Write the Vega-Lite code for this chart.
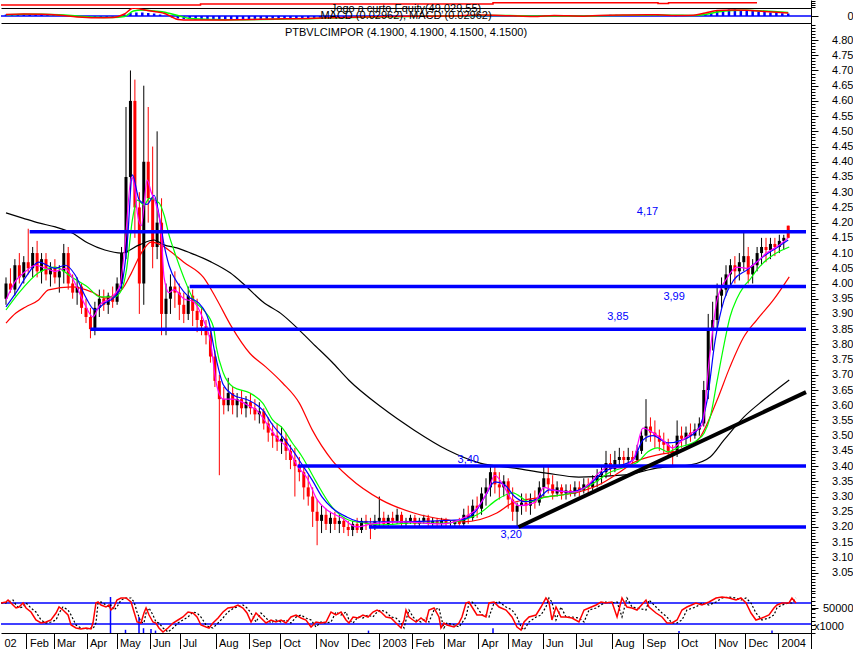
{
"$schema": "https://vega.github.io/schema/vega-lite/v6.json",
"padding": 0,
"background": "white",
"spacing": 0,
"bounds": "flush",
"config": {"view": {"stroke": null}, "font": "Liberation Sans", "concat": {"spacing": 0}, "axis": {"labelOverlap": false}},
"datasets": {
"candles": [
{"t":0,"o":3.95,"h":4.02,"l":3.93,"c":4.0},{"t":3,"o":4.0,"h":4.05,"l":3.97,"c":3.98},{"t":6,"o":3.98,"h":4.08,"l":3.96,"c":4.06},{"t":9,"o":4.06,"h":4.1,"l":4.0,"c":4.02},{"t":12,"o":4.02,"h":4.09,"l":4.0,"c":4.07},{"t":15,"o":4.07,"h":4.18,"l":4.03,"c":4.05},{"t":18,"o":4.05,"h":4.12,"l":4.02,"c":4.1},{"t":21,"o":4.1,"h":4.14,"l":4.02,"c":4.04},{"t":24,"o":4.04,"h":4.1,"l":4.0,"c":4.08},{"t":27,"o":4.08,"h":4.1,"l":4.01,"c":4.03},
{"t":30,"o":4.03,"h":4.07,"l":3.99,"c":4.05},{"t":33,"o":4.05,"h":4.08,"l":4.0,"c":4.02},{"t":36,"o":4.02,"h":4.06,"l":3.97,"c":4.04},{"t":39,"o":4.04,"h":4.13,"l":4.0,"c":4.1},{"t":42,"o":4.1,"h":4.12,"l":3.98,"c":4.0},{"t":45,"o":4.0,"h":4.03,"l":3.95,"c":3.97},{"t":48,"o":3.97,"h":4.02,"l":3.93,"c":3.99},{"t":51,"o":3.99,"h":4.0,"l":3.9,"c":3.92},{"t":54,"o":3.92,"h":3.95,"l":3.87,"c":3.89},{"t":57,"o":3.89,"h":3.92,"l":3.82,"c":3.85},
{"t":60,"o":3.85,"h":3.94,"l":3.83,"c":3.92},{"t":63,"o":3.92,"h":3.98,"l":3.89,"c":3.95},{"t":66,"o":3.95,"h":3.98,"l":3.91,"c":3.93},{"t":69,"o":3.93,"h":3.97,"l":3.9,"c":3.96},{"t":72,"o":3.96,"h":3.99,"l":3.92,"c":3.94},{"t":75,"o":3.94,"h":4.02,"l":3.93,"c":4.0},{"t":78,"o":4.0,"h":4.12,"l":3.98,"c":4.1},{"t":81,"o":4.1,"h":4.58,"l":4.08,"c":4.35},{"t":84,"o":4.35,"h":4.7,"l":4.3,"c":4.6},{"t":87,"o":4.6,"h":4.67,"l":4.15,"c":4.25},
{"t":90,"o":4.25,"h":4.3,"l":3.9,"c":4.0},{"t":93,"o":4.0,"h":4.65,"l":3.93,"c":4.4},{"t":96,"o":4.4,"h":4.58,"l":4.2,"c":4.28},{"t":99,"o":4.28,"h":4.45,"l":4.05,"c":4.12},{"t":102,"o":4.12,"h":4.5,"l":4.08,"c":4.2},{"t":105,"o":4.2,"h":4.28,"l":3.83,"c":3.9},{"t":108,"o":3.9,"h":4.0,"l":3.83,"c":3.95},{"t":111,"o":3.95,"h":4.03,"l":3.9,"c":3.99},{"t":114,"o":3.99,"h":4.04,"l":3.92,"c":3.97},{"t":117,"o":3.97,"h":4.0,"l":3.88,"c":3.93},
{"t":120,"o":3.93,"h":3.97,"l":3.87,"c":3.9},{"t":123,"o":3.9,"h":3.99,"l":3.88,"c":3.96},{"t":126,"o":3.96,"h":3.98,"l":3.86,"c":3.91},{"t":129,"o":3.91,"h":3.95,"l":3.84,"c":3.88},{"t":132,"o":3.88,"h":3.92,"l":3.83,"c":3.86},{"t":135,"o":3.86,"h":3.88,"l":3.8,"c":3.83},{"t":138,"o":3.83,"h":3.85,"l":3.74,"c":3.76},{"t":141,"o":3.76,"h":3.78,"l":3.66,"c":3.68},{"t":144,"o":3.68,"h":3.7,"l":3.37,"c":3.62},{"t":147,"o":3.62,"h":3.66,"l":3.57,"c":3.6},
{"t":150,"o":3.6,"h":3.69,"l":3.58,"c":3.64},{"t":153,"o":3.64,"h":3.66,"l":3.57,"c":3.6},{"t":156,"o":3.6,"h":3.64,"l":3.56,"c":3.62},{"t":159,"o":3.62,"h":3.65,"l":3.57,"c":3.59},{"t":162,"o":3.59,"h":3.63,"l":3.56,"c":3.61},{"t":165,"o":3.61,"h":3.64,"l":3.57,"c":3.59},{"t":168,"o":3.59,"h":3.62,"l":3.55,"c":3.57},{"t":171,"o":3.57,"h":3.61,"l":3.54,"c":3.58},{"t":174,"o":3.58,"h":3.59,"l":3.52,"c":3.54},{"t":177,"o":3.54,"h":3.56,"l":3.48,"c":3.51},
{"t":180,"o":3.51,"h":3.54,"l":3.46,"c":3.5},{"t":183,"o":3.5,"h":3.54,"l":3.45,"c":3.48},{"t":186,"o":3.48,"h":3.53,"l":3.44,"c":3.49},{"t":189,"o":3.49,"h":3.51,"l":3.42,"c":3.45},{"t":192,"o":3.45,"h":3.47,"l":3.39,"c":3.42},{"t":195,"o":3.42,"h":3.46,"l":3.3,"c":3.4},{"t":198,"o":3.4,"h":3.43,"l":3.35,"c":3.38},{"t":201,"o":3.38,"h":3.4,"l":3.29,"c":3.33},{"t":204,"o":3.33,"h":3.37,"l":3.27,"c":3.3},{"t":207,"o":3.3,"h":3.33,"l":3.2,"c":3.25},
{"t":210,"o":3.25,"h":3.29,"l":3.14,"c":3.22},{"t":213,"o":3.22,"h":3.27,"l":3.18,"c":3.24},{"t":216,"o":3.24,"h":3.26,"l":3.19,"c":3.21},{"t":219,"o":3.21,"h":3.25,"l":3.18,"c":3.23},{"t":222,"o":3.23,"h":3.25,"l":3.19,"c":3.21},{"t":225,"o":3.21,"h":3.24,"l":3.18,"c":3.22},{"t":228,"o":3.22,"h":3.23,"l":3.18,"c":3.2},{"t":231,"o":3.2,"h":3.22,"l":3.17,"c":3.19},{"t":234,"o":3.19,"h":3.22,"l":3.17,"c":3.21},{"t":237,"o":3.21,"h":3.23,"l":3.18,"c":3.19},
{"t":240,"o":3.19,"h":3.23,"l":3.18,"c":3.22},{"t":243,"o":3.22,"h":3.24,"l":3.19,"c":3.21},{"t":246,"o":3.21,"h":3.23,"l":3.16,"c":3.2},{"t":249,"o":3.2,"h":3.24,"l":3.19,"c":3.22},{"t":252,"o":3.22,"h":3.3,"l":3.2,"c":3.23},{"t":255,"o":3.23,"h":3.25,"l":3.2,"c":3.21},{"t":258,"o":3.21,"h":3.24,"l":3.2,"c":3.23},{"t":261,"o":3.23,"h":3.25,"l":3.21,"c":3.22},{"t":264,"o":3.22,"h":3.26,"l":3.21,"c":3.24},{"t":267,"o":3.24,"h":3.25,"l":3.2,"c":3.21},
{"t":270,"o":3.21,"h":3.23,"l":3.2,"c":3.22},{"t":273,"o":3.22,"h":3.24,"l":3.21,"c":3.23},{"t":276,"o":3.23,"h":3.24,"l":3.2,"c":3.21},{"t":279,"o":3.21,"h":3.23,"l":3.2,"c":3.22},{"t":282,"o":3.22,"h":3.24,"l":3.21,"c":3.23},{"t":285,"o":3.23,"h":3.24,"l":3.2,"c":3.21},{"t":288,"o":3.21,"h":3.23,"l":3.2,"c":3.22},{"t":291,"o":3.22,"h":3.23,"l":3.2,"c":3.21},{"t":294,"o":3.21,"h":3.23,"l":3.2,"c":3.22},{"t":297,"o":3.22,"h":3.23,"l":3.2,"c":3.21},
{"t":300,"o":3.21,"h":3.22,"l":3.2,"c":3.21},{"t":303,"o":3.21,"h":3.22,"l":3.2,"c":3.22},{"t":306,"o":3.22,"h":3.23,"l":3.2,"c":3.21},{"t":309,"o":3.21,"h":3.26,"l":3.2,"c":3.24},{"t":312,"o":3.24,"h":3.27,"l":3.21,"c":3.23},{"t":315,"o":3.23,"h":3.29,"l":3.22,"c":3.27},{"t":318,"o":3.27,"h":3.3,"l":3.23,"c":3.26},{"t":321,"o":3.26,"h":3.33,"l":3.24,"c":3.31},{"t":324,"o":3.31,"h":3.36,"l":3.27,"c":3.33},{"t":327,"o":3.33,"h":3.4,"l":3.3,"c":3.38},
{"t":330,"o":3.38,"h":3.4,"l":3.31,"c":3.34},{"t":333,"o":3.34,"h":3.38,"l":3.29,"c":3.33},{"t":336,"o":3.33,"h":3.37,"l":3.3,"c":3.35},{"t":339,"o":3.35,"h":3.36,"l":3.26,"c":3.29},{"t":342,"o":3.29,"h":3.33,"l":3.22,"c":3.25},{"t":345,"o":3.25,"h":3.28,"l":3.2,"c":3.27},{"t":348,"o":3.27,"h":3.31,"l":3.24,"c":3.28},{"t":351,"o":3.28,"h":3.31,"l":3.25,"c":3.27},{"t":354,"o":3.27,"h":3.31,"l":3.24,"c":3.29},{"t":357,"o":3.29,"h":3.32,"l":3.26,"c":3.28},
{"t":360,"o":3.28,"h":3.35,"l":3.27,"c":3.33},{"t":363,"o":3.33,"h":3.4,"l":3.3,"c":3.36},{"t":366,"o":3.36,"h":3.4,"l":3.31,"c":3.34},{"t":369,"o":3.34,"h":3.37,"l":3.29,"c":3.31},{"t":372,"o":3.31,"h":3.35,"l":3.3,"c":3.33},{"t":375,"o":3.33,"h":3.34,"l":3.29,"c":3.31},{"t":378,"o":3.31,"h":3.34,"l":3.29,"c":3.32},{"t":381,"o":3.32,"h":3.34,"l":3.3,"c":3.31},{"t":384,"o":3.31,"h":3.35,"l":3.3,"c":3.33},{"t":387,"o":3.33,"h":3.35,"l":3.3,"c":3.32},
{"t":390,"o":3.32,"h":3.36,"l":3.31,"c":3.34},{"t":393,"o":3.34,"h":3.36,"l":3.31,"c":3.33},{"t":396,"o":3.33,"h":3.37,"l":3.32,"c":3.35},{"t":399,"o":3.35,"h":3.39,"l":3.33,"c":3.37},{"t":402,"o":3.37,"h":3.4,"l":3.34,"c":3.38},{"t":405,"o":3.38,"h":3.45,"l":3.36,"c":3.41},{"t":408,"o":3.41,"h":3.44,"l":3.37,"c":3.39},{"t":411,"o":3.39,"h":3.45,"l":3.38,"c":3.42},{"t":414,"o":3.42,"h":3.46,"l":3.4,"c":3.43},{"t":417,"o":3.43,"h":3.45,"l":3.4,"c":3.42},
{"t":420,"o":3.42,"h":3.46,"l":3.4,"c":3.43},{"t":423,"o":3.43,"h":3.45,"l":3.41,"c":3.42},{"t":426,"o":3.42,"h":3.47,"l":3.41,"c":3.45},{"t":429,"o":3.45,"h":3.52,"l":3.44,"c":3.5},{"t":432,"o":3.5,"h":3.62,"l":3.48,"c":3.53},{"t":435,"o":3.53,"h":3.56,"l":3.48,"c":3.51},{"t":438,"o":3.51,"h":3.55,"l":3.46,"c":3.5},{"t":441,"o":3.5,"h":3.52,"l":3.45,"c":3.48},{"t":444,"o":3.48,"h":3.51,"l":3.44,"c":3.47},{"t":447,"o":3.47,"h":3.49,"l":3.43,"c":3.45},
{"t":450,"o":3.45,"h":3.47,"l":3.4,"c":3.44},{"t":453,"o":3.44,"h":3.55,"l":3.43,"c":3.5},{"t":456,"o":3.5,"h":3.53,"l":3.46,"c":3.49},{"t":459,"o":3.49,"h":3.53,"l":3.47,"c":3.51},{"t":462,"o":3.51,"h":3.54,"l":3.48,"c":3.5},{"t":465,"o":3.5,"h":3.54,"l":3.49,"c":3.52},{"t":468,"o":3.52,"h":3.56,"l":3.5,"c":3.54},{"t":471,"o":3.54,"h":3.68,"l":3.53,"c":3.65},{"t":474,"o":3.65,"h":3.9,"l":3.62,"c":3.85},{"t":477,"o":3.85,"h":3.94,"l":3.78,"c":3.88},
{"t":480,"o":3.88,"h":4.0,"l":3.85,"c":3.96},{"t":483,"o":3.96,"h":4.02,"l":3.92,"c":3.98},{"t":486,"o":3.98,"h":4.06,"l":3.96,"c":4.03},{"t":489,"o":4.03,"h":4.08,"l":3.99,"c":4.06},{"t":492,"o":4.06,"h":4.09,"l":4.0,"c":4.04},{"t":495,"o":4.04,"h":4.1,"l":4.01,"c":4.07},{"t":498,"o":4.07,"h":4.17,"l":4.04,"c":4.09},{"t":501,"o":4.09,"h":4.12,"l":4.0,"c":4.03},{"t":504,"o":4.03,"h":4.08,"l":4.0,"c":4.06},{"t":507,"o":4.06,"h":4.12,"l":4.04,"c":4.1},
{"t":510,"o":4.1,"h":4.15,"l":4.06,"c":4.12},{"t":513,"o":4.12,"h":4.15,"l":4.07,"c":4.11},{"t":516,"o":4.11,"h":4.15,"l":4.08,"c":4.13},{"t":519,"o":4.13,"h":4.15,"l":4.09,"c":4.12},{"t":522,"o":4.12,"h":4.16,"l":4.1,"c":4.14},{"t":525,"o":4.14,"h":4.16,"l":4.11,"c":4.15},{"t":528,"o":4.19,"h":4.19,"l":4.15,"c":4.15}
],
"ma": [
{"s":"m200","t":0,"v":4.232},{"s":"m200","t":11.3,"v":4.215},{"s":"m200","t":22,"v":4.199},{"s":"m200","t":33.3,"v":4.186},{"s":"m200","t":44.7,"v":4.166},{"s":"m200","t":55.3,"v":4.133},{"s":"m200","t":66.7,"v":4.11},{"s":"m200","t":78,"v":4.1},{"s":"m200","t":90,"v":4.127},{"s":"m200","t":100,"v":4.143},{"s":"m200","t":106.7,"v":4.127},{"s":"m200","t":115.3,"v":4.117},{"s":"m200","t":124.7,"v":4.1},{"s":"m200","t":138,"v":4.072},{"s":"m200","t":151.3,"v":4.035},{"s":"m200","t":160,"v":4.0},{"s":"m200","t":173.3,"v":3.94},{"s":"m200","t":186.7,"v":3.897},{"s":"m200","t":198,"v":3.847},{"s":"m200","t":206.7,"v":3.805},{"s":"m200","t":220,"v":3.742},{"s":"m200","t":231.3,"v":3.683},{"s":"m200","t":253.3,"v":3.594},{"s":"m200","t":275.3,"v":3.519},{"s":"m200","t":298,"v":3.453},{"s":"m200","t":320,"v":3.41},{"s":"m200","t":342,"v":3.394},{"s":"m200","t":364.7,"v":3.377},{"s":"m200","t":386.7,"v":3.364},{"s":"m200","t":418,"v":3.371},{"s":"m200","t":440,"v":3.394},{"s":"m200","t":462,"v":3.404},{"s":"m200","t":475.3,"v":3.43},{"s":"m200","t":484.7,"v":3.486},{"s":"m200","t":498,"v":3.561},{"s":"m200","t":511.3,"v":3.617},{"s":"m200","t":528.7,"v":3.683},
{"s":"m50","t":0,"v":3.87},{"s":"m50","t":6.7,"v":3.903},{"s":"m50","t":13.3,"v":3.923},{"s":"m50","t":22,"v":3.946},{"s":"m50","t":28.7,"v":3.979},{"s":"m50","t":44.7,"v":3.989},{"s":"m50","t":58,"v":3.972},{"s":"m50","t":66.7,"v":3.952},{"s":"m50","t":78,"v":3.979},{"s":"m50","t":84.7,"v":4.035},{"s":"m50","t":91.3,"v":4.1},{"s":"m50","t":98,"v":4.136},{"s":"m50","t":104.7,"v":4.127},{"s":"m50","t":111.3,"v":4.104},{"s":"m50","t":120,"v":4.07},{"s":"m50","t":133.3,"v":4.02},{"s":"m50","t":142,"v":3.95},{"s":"m50","t":152,"v":3.86},{"s":"m50","t":164.7,"v":3.77},{"s":"m50","t":175.3,"v":3.726},{"s":"m50","t":186.7,"v":3.673},{"s":"m50","t":198,"v":3.607},{"s":"m50","t":206.7,"v":3.519},{"s":"m50","t":220,"v":3.42},{"s":"m50","t":231.3,"v":3.364},{"s":"m50","t":253.3,"v":3.289},{"s":"m50","t":275.3,"v":3.246},{"s":"m50","t":298,"v":3.223},{"s":"m50","t":308.7,"v":3.217},{"s":"m50","t":331.3,"v":3.246},{"s":"m50","t":342,"v":3.279},{"s":"m50","t":364.7,"v":3.299},{"s":"m50","t":386.7,"v":3.315},{"s":"m50","t":400,"v":3.338},{"s":"m50","t":413.3,"v":3.377},{"s":"m50","t":424.7,"v":3.414},{"s":"m50","t":440,"v":3.437},{"s":"m50","t":451.3,"v":3.447},{"s":"m50","t":462,"v":3.463},{"s":"m50","t":468.7,"v":3.496},{"s":"m50","t":480,"v":3.617},{"s":"m50","t":488.7,"v":3.726},{"s":"m50","t":498,"v":3.824},{"s":"m50","t":506.7,"v":3.88},{"s":"m50","t":518,"v":3.946},{"s":"m50","t":528.7,"v":4.022},
{"s":"m20","t":0,"v":3.913},{"s":"m20","t":8.7,"v":3.969},{"s":"m20","t":22,"v":4.035},{"s":"m20","t":33.3,"v":4.054},{"s":"m20","t":44.7,"v":4.02},{"s":"m20","t":55.3,"v":3.988},{"s":"m20","t":63.3,"v":3.956},{"s":"m20","t":73.3,"v":3.956},{"s":"m20","t":78,"v":3.979},{"s":"m20","t":81.3,"v":4.044},{"s":"m20","t":85.3,"v":4.209},{"s":"m20","t":88.7,"v":4.274},{"s":"m20","t":93.3,"v":4.258},{"s":"m20","t":96.7,"v":4.28},{"s":"m20","t":103.3,"v":4.265},{"s":"m20","t":106.7,"v":4.225},{"s":"m20","t":110,"v":4.16},{"s":"m20","t":113.3,"v":4.11},{"s":"m20","t":120,"v":4.02},{"s":"m20","t":126.7,"v":3.946},{"s":"m20","t":133.3,"v":3.913},{"s":"m20","t":140,"v":3.857},{"s":"m20","t":142,"v":3.79},{"s":"m20","t":146.7,"v":3.706},{"s":"m20","t":153.3,"v":3.66},{"s":"m20","t":164.7,"v":3.64},{"s":"m20","t":173.3,"v":3.607},{"s":"m20","t":180,"v":3.552},{"s":"m20","t":186.7,"v":3.524},{"s":"m20","t":193.3,"v":3.476},{"s":"m20","t":200,"v":3.43},{"s":"m20","t":208.7,"v":3.354},{"s":"m20","t":220,"v":3.266},{"s":"m20","t":231.3,"v":3.223},{"s":"m20","t":242,"v":3.213},{"s":"m20","t":253.3,"v":3.207},{"s":"m20","t":275.3,"v":3.213},{"s":"m20","t":298,"v":3.213},{"s":"m20","t":308.7,"v":3.223},{"s":"m20","t":320,"v":3.246},{"s":"m20","t":331.3,"v":3.289},{"s":"m20","t":342,"v":3.312},{"s":"m20","t":353.3,"v":3.283},{"s":"m20","t":364.7,"v":3.299},{"s":"m20","t":375.3,"v":3.305},{"s":"m20","t":386.7,"v":3.318},{"s":"m20","t":400,"v":3.354},{"s":"m20","t":406.7,"v":3.377},{"s":"m20","t":418,"v":3.397},{"s":"m20","t":426.7,"v":3.414},{"s":"m20","t":433.3,"v":3.447},{"s":"m20","t":440,"v":3.46},{"s":"m20","t":446.7,"v":3.447},{"s":"m20","t":453.3,"v":3.46},{"s":"m20","t":466.7,"v":3.486},{"s":"m20","t":471.3,"v":3.509},{"s":"m20","t":475.3,"v":3.56},{"s":"m20","t":480,"v":3.68},{"s":"m20","t":484.7,"v":3.8},{"s":"m20","t":488.7,"v":3.89},{"s":"m20","t":493.3,"v":3.95},{"s":"m20","t":498,"v":3.99},{"s":"m20","t":502,"v":4.012},{"s":"m20","t":506.7,"v":4.044},{"s":"m20","t":513.3,"v":4.077},{"s":"m20","t":520,"v":4.1},{"s":"m20","t":528.7,"v":4.12},
{"s":"m10","t":0,"v":3.923},{"s":"m10","t":6.7,"v":3.969},{"s":"m10","t":15.3,"v":4.035},{"s":"m10","t":22,"v":4.07},{"s":"m10","t":33.3,"v":4.05},{"s":"m10","t":40,"v":4.06},{"s":"m10","t":46.7,"v":4.028},{"s":"m10","t":53.3,"v":3.96},{"s":"m10","t":60,"v":3.913},{"s":"m10","t":66.7,"v":3.936},{"s":"m10","t":73.3,"v":3.956},{"s":"m10","t":78,"v":3.995},{"s":"m10","t":82,"v":4.143},{"s":"m10","t":85.3,"v":4.357},{"s":"m10","t":90,"v":4.274},{"s":"m10","t":95.3,"v":4.26},{"s":"m10","t":100,"v":4.29},{"s":"m10","t":103.3,"v":4.225},{"s":"m10","t":106.7,"v":4.127},{"s":"m10","t":110,"v":4.06},{"s":"m10","t":116.7,"v":3.995},{"s":"m10","t":123.3,"v":3.956},{"s":"m10","t":130,"v":3.936},{"s":"m10","t":136.7,"v":3.88},{"s":"m10","t":141.3,"v":3.765},{"s":"m10","t":146.7,"v":3.667},{"s":"m10","t":153.3,"v":3.634},{"s":"m10","t":163.3,"v":3.617},{"s":"m10","t":173.3,"v":3.584},{"s":"m10","t":180,"v":3.535},{"s":"m10","t":186.7,"v":3.496},{"s":"m10","t":193.3,"v":3.453},{"s":"m10","t":200,"v":3.404},{"s":"m10","t":206.7,"v":3.354},{"s":"m10","t":213.3,"v":3.299},{"s":"m10","t":220,"v":3.263},{"s":"m10","t":230,"v":3.233},{"s":"m10","t":240,"v":3.217},{"s":"m10","t":266.7,"v":3.217},{"s":"m10","t":306.7,"v":3.223},{"s":"m10","t":316.7,"v":3.25},{"s":"m10","t":323.3,"v":3.3},{"s":"m10","t":330,"v":3.348},{"s":"m10","t":336.7,"v":3.338},{"s":"m10","t":343.3,"v":3.3},{"s":"m10","t":350,"v":3.283},{"s":"m10","t":360,"v":3.296},{"s":"m10","t":366.7,"v":3.322},{"s":"m10","t":380,"v":3.315},{"s":"m10","t":393.3,"v":3.338},{"s":"m10","t":403.3,"v":3.381},{"s":"m10","t":413.3,"v":3.4},{"s":"m10","t":423.3,"v":3.42},{"s":"m10","t":430,"v":3.486},{"s":"m10","t":436.7,"v":3.5},{"s":"m10","t":446.7,"v":3.476},{"s":"m10","t":456.7,"v":3.486},{"s":"m10","t":466.7,"v":3.519},{"s":"m10","t":473.3,"v":3.617},{"s":"m10","t":478.7,"v":3.814},{"s":"m10","t":484.7,"v":3.946},{"s":"m10","t":491.3,"v":4.012},{"s":"m10","t":500,"v":4.044},{"s":"m10","t":510,"v":4.084},{"s":"m10","t":520,"v":4.117},{"s":"m10","t":528,"v":4.143},
{"s":"m5","t":0,"v":3.946},{"s":"m5","t":6.7,"v":4.01},{"s":"m5","t":13.3,"v":4.04},{"s":"m5","t":20,"v":4.06},{"s":"m5","t":26.7,"v":4.05},{"s":"m5","t":33.3,"v":4.04},{"s":"m5","t":40,"v":4.05},{"s":"m5","t":46.7,"v":4.0},{"s":"m5","t":53.3,"v":3.93},{"s":"m5","t":58.7,"v":3.89},{"s":"m5","t":63.3,"v":3.93},{"s":"m5","t":70,"v":3.95},{"s":"m5","t":76.7,"v":3.99},{"s":"m5","t":80,"v":4.11},{"s":"m5","t":84.7,"v":4.35},{"s":"m5","t":86.7,"v":4.32},{"s":"m5","t":88.7,"v":4.23},{"s":"m5","t":91.3,"v":4.19},{"s":"m5","t":95.3,"v":4.34},{"s":"m5","t":98,"v":4.3},{"s":"m5","t":101.3,"v":4.26},{"s":"m5","t":104.7,"v":4.17},{"s":"m5","t":106.7,"v":4.02},{"s":"m5","t":110,"v":3.97},{"s":"m5","t":113.3,"v":3.98},{"s":"m5","t":120,"v":3.95},{"s":"m5","t":126.7,"v":3.94},{"s":"m5","t":133.3,"v":3.88},{"s":"m5","t":138,"v":3.81},{"s":"m5","t":142,"v":3.67},{"s":"m5","t":146.7,"v":3.62},{"s":"m5","t":153.3,"v":3.62},{"s":"m5","t":163.3,"v":3.6},{"s":"m5","t":170,"v":3.58},{"s":"m5","t":176.7,"v":3.535},{"s":"m5","t":183.3,"v":3.49},{"s":"m5","t":190,"v":3.46},{"s":"m5","t":196.7,"v":3.4},{"s":"m5","t":203.3,"v":3.36},{"s":"m5","t":210,"v":3.29},{"s":"m5","t":216.7,"v":3.256},{"s":"m5","t":226.7,"v":3.23},{"s":"m5","t":236.7,"v":3.2},{"s":"m5","t":246.7,"v":3.21},{"s":"m5","t":266.7,"v":3.217},{"s":"m5","t":293.3,"v":3.21},{"s":"m5","t":310,"v":3.233},{"s":"m5","t":318.7,"v":3.266},{"s":"m5","t":325.3,"v":3.32},{"s":"m5","t":330,"v":3.37},{"s":"m5","t":335.3,"v":3.34},{"s":"m5","t":341.3,"v":3.29},{"s":"m5","t":346.7,"v":3.27},{"s":"m5","t":356.7,"v":3.28},{"s":"m5","t":363.3,"v":3.33},{"s":"m5","t":370,"v":3.32},{"s":"m5","t":383.3,"v":3.315},{"s":"m5","t":393.3,"v":3.34},{"s":"m5","t":400,"v":3.377},{"s":"m5","t":406.7,"v":3.397},{"s":"m5","t":413.3,"v":3.394},{"s":"m5","t":423.3,"v":3.42},{"s":"m5","t":430,"v":3.525},{"s":"m5","t":436.7,"v":3.51},{"s":"m5","t":443.3,"v":3.486},{"s":"m5","t":450,"v":3.46},{"s":"m5","t":456.7,"v":3.486},{"s":"m5","t":463.3,"v":3.51},{"s":"m5","t":470,"v":3.535},{"s":"m5","t":474.7,"v":3.75},{"s":"m5","t":480,"v":3.946},{"s":"m5","t":486.7,"v":4.018},{"s":"m5","t":493.3,"v":4.054},{"s":"m5","t":500,"v":4.05},{"s":"m5","t":506.7,"v":4.07},{"s":"m5","t":513.3,"v":4.1},{"s":"m5","t":520,"v":4.12},{"s":"m5","t":528,"v":4.15}
],
"lvl": [{"t":16,"p":4.17},{"t":124,"p":3.99},{"t":57,"p":3.85},{"t":197,"p":3.4},{"t":245,"p":3.2}],
"lbl": [{"t":433,"p":4.235,"s":"4,17"},{"t":451,"p":3.956,"s":"3,99"},{"t":413,"p":3.89,"s":"3,85"},{"t":312,"p":3.42,"s":"3,40"},{"t":341,"p":3.174,"s":"3,20"}],
"trend": [{"t":346,"p":3.2},{"t":540,"p":3.643}],
"eq": [{"t":0,"v":3},{"t":133,"v":4},{"t":328,"v":5.3},{"t":438,"v":4.6},{"t":445,"v":5.3},{"t":504,"v":5.3}],
"macdh": [
{"t":0,"h":0.15},{"t":4,"h":0.18},{"t":8,"h":0.2},{"t":12,"h":0.18},{"t":16,"h":0.2},{"t":20,"h":0.15},{"t":24,"h":0.15},{"t":28,"h":0.1},{"t":32,"h":0.08},{"t":36,"h":0.03},{"t":40,"h":0},{"t":44,"h":-0.05},{"t":48,"h":-0.1},{"t":52,"h":-0.12},{"t":56,"h":-0.15},{"t":60,"h":-0.15},{"t":64,"h":-0.12},{"t":68,"h":-0.1},{"t":72,"h":-0.08},{"t":76,"h":0},{"t":80,"h":0.15},{"t":84,"h":0.3},{"t":88,"h":0.35},{"t":92,"h":0.35},{"t":96,"h":0.3},{"t":100,"h":0.25},{"t":104,"h":0.15},{"t":108,"h":0},{"t":112,"h":-0.15},{"t":116,"h":-0.25},{"t":120,"h":-0.3},{"t":124,"h":-0.3},{"t":128,"h":-0.35},{"t":132,"h":-0.35},{"t":136,"h":-0.35},{"t":140,"h":-0.38},{"t":144,"h":-0.4},{"t":148,"h":-0.4},{"t":152,"h":-0.4},{"t":156,"h":-0.38},{"t":160,"h":-0.38},{"t":164,"h":-0.35},{"t":168,"h":-0.33},{"t":172,"h":-0.3},{"t":176,"h":-0.3},{"t":180,"h":-0.28},{"t":184,"h":-0.28},{"t":188,"h":-0.25},{"t":192,"h":-0.25},{"t":196,"h":-0.25},{"t":200,"h":-0.22},{"t":204,"h":-0.22},{"t":208,"h":-0.25},{"t":212,"h":-0.25},{"t":216,"h":-0.2},{"t":220,"h":-0.15},{"t":224,"h":-0.12},{"t":228,"h":-0.1},{"t":232,"h":-0.1},{"t":236,"h":-0.08},{"t":240,"h":-0.06},{"t":244,"h":-0.05},{"t":248,"h":-0.05},{"t":252,"h":-0.03},{"t":256,"h":-0.03},{"t":260,"h":-0.02},{"t":264,"h":-0.02},{"t":268,"h":-0.02},{"t":304,"h":0.02},{"t":308,"h":0.03},{"t":312,"h":0.05},{"t":316,"h":0.08},{"t":320,"h":0.1},{"t":324,"h":0.12},{"t":328,"h":0.1},{"t":332,"h":0.08},{"t":336,"h":0.05},{"t":344,"h":-0.05},{"t":348,"h":-0.08},{"t":352,"h":-0.05},{"t":360,"h":0.03},{"t":364,"h":0.05},{"t":368,"h":0.03},{"t":372,"h":0.02},{"t":384,"h":0.02},{"t":388,"h":0.02},{"t":392,"h":0.03},{"t":396,"h":0.05},{"t":400,"h":0.08},{"t":404,"h":0.1},{"t":408,"h":0.12},{"t":412,"h":0.12},{"t":416,"h":0.1},{"t":420,"h":0.1},{"t":424,"h":0.08},{"t":428,"h":0.12},{"t":432,"h":0.15},{"t":436,"h":0.12},{"t":440,"h":0.1},{"t":444,"h":0.05},{"t":452,"h":-0.02},{"t":460,"h":0.02},{"t":464,"h":0.05},{"t":468,"h":0.1},{"t":472,"h":0.2},{"t":476,"h":0.35},{"t":480,"h":0.5},{"t":484,"h":0.6},{"t":488,"h":0.65},{"t":492,"h":0.65},{"t":496,"h":0.6},{"t":500,"h":0.55},{"t":504,"h":0.5},{"t":508,"h":0.45},{"t":512,"h":0.4},{"t":516,"h":0.35},{"t":520,"h":0.3},{"t":524,"h":0.28},{"t":528,"h":0.25}
],
"macdl": [
{"t":0,"m":0.15,"g":0.12},{"t":12,"m":0.2,"g":0.17},{"t":24,"m":0.18,"g":0.18},{"t":36,"m":0.08,"g":0.12},{"t":48,"m":-0.1,"g":0},{"t":60,"m":-0.18,"g":-0.12},{"t":72,"m":-0.15,"g":-0.15},{"t":80,"m":0.2,"g":-0.05},{"t":86,"m":0.8,"g":0.5},{"t":92,"m":0.65,"g":0.6},{"t":100,"m":0.45,"g":0.5},{"t":108,"m":0.2,"g":0.35},{"t":112,"m":-0.1,"g":0.2},{"t":116,"m":-0.35,"g":0.05},{"t":124,"m":-0.4,"g":-0.25},{"t":140,"m":-0.4,"g":-0.35},{"t":156,"m":-0.38,"g":-0.38},{"t":172,"m":-0.33,"g":-0.35},{"t":188,"m":-0.28,"g":-0.3},{"t":204,"m":-0.25,"g":-0.27},{"t":220,"m":-0.18,"g":-0.2},{"t":240,"m":-0.1,"g":-0.13},{"t":260,"m":-0.05,"g":-0.07},{"t":280,"m":-0.02,"g":-0.03},{"t":300,"m":0,"g":0},{"t":320,"m":0.1,"g":0.06},{"t":340,"m":0.02,"g":0.05},{"t":356,"m":-0.05,"g":0},{"t":370,"m":0.05,"g":0},{"t":390,"m":-0.02,"g":0},{"t":400,"m":0.05,"g":0.02},{"t":420,"m":0.1,"g":0.07},{"t":440,"m":0.12,"g":0.1},{"t":452,"m":0.05,"g":0.08},{"t":464,"m":0.08,"g":0.05},{"t":472,"m":0.3,"g":0.15},{"t":480,"m":0.55,"g":0.4},{"t":490,"m":0.6,"g":0.55},{"t":500,"m":0.58,"g":0.58},{"t":512,"m":0.45,"g":0.5},{"t":528,"m":0.3,"g":0.35}
],
"osc": [
{"t":0,"r":75,"k":75},{"t":3.3,"r":77.5,"k":75},{"t":4.7,"r":82.5,"k":77.5},{"t":8,"r":70,"k":82.5},{"t":10,"r":62.5,"k":70},{"t":12,"r":65,"k":62.5},{"t":14.7,"r":75,"k":65},{"t":16.7,"r":62.5,"k":75},{"t":20,"r":52.5,"k":62.5},{"t":23.3,"r":32.5,"k":52.5},{"t":26.7,"r":25,"k":32.5},{"t":30,"r":27.5,"k":25},{"t":33.3,"r":32.5,"k":27.5},{"t":36.7,"r":50,"k":32.5},{"t":38.7,"r":65,"k":50},{"t":41.3,"r":57.5,"k":65},{"t":44.7,"r":45,"k":57.5},{"t":46.7,"r":20,"k":45},{"t":50,"r":12.5,"k":20},{"t":53.3,"r":10,"k":12.5},{"t":56.7,"r":12.5,"k":10},{"t":60,"r":10,"k":12.5},{"t":61.3,"r":25,"k":10},{"t":63.3,"r":75,"k":25},{"t":64.7,"r":77.5,"k":75},{"t":66.7,"r":70,"k":77.5},{"t":70,"r":65,"k":70},{"t":72,"r":70,"k":65},{"t":73.3,"r":57.5,"k":70},{"t":75.3,"r":65,"k":57.5},{"t":77.3,"r":82.5,"k":65},{"t":80,"r":87.5,"k":82.5},{"t":83.3,"r":87.5,"k":87.5},{"t":86.7,"r":77.5,"k":87.5},{"t":88.7,"r":52.5,"k":77.5},{"t":90.7,"r":27.5,"k":52.5},{"t":93.3,"r":25,"k":27.5},{"t":95.3,"r":50,"k":25},{"t":96.7,"r":62.5,"k":50},{"t":98.7,"r":45,"k":62.5},{"t":101.3,"r":27.5,"k":45},{"t":103.3,"r":25,"k":27.5},{"t":105.3,"r":12.5,"k":25},{"t":108,"r":2.5,"k":12.5},{"t":111.3,"r":12.5,"k":2.5},{"t":114.7,"r":25,"k":12.5},{"t":118,"r":32.5,"k":25},{"t":121.3,"r":40,"k":32.5},{"t":124.7,"r":52.5,"k":40},{"t":128,"r":50,"k":52.5},{"t":130.7,"r":40,"k":50},{"t":133.3,"r":20,"k":40},{"t":136.7,"r":15,"k":20},{"t":138.7,"r":12.5,"k":15},{"t":141.3,"r":25,"k":12.5},{"t":144.7,"r":37.5,"k":25},{"t":148,"r":52.5,"k":37.5},{"t":151.3,"r":62.5,"k":52.5},{"t":155.3,"r":65,"k":62.5},{"t":158,"r":70,"k":65},{"t":161.3,"r":62.5,"k":70},{"t":164,"r":50,"k":62.5},{"t":166.7,"r":27.5,"k":50},{"t":170,"r":50,"k":27.5},{"t":173.3,"r":37.5,"k":50},{"t":176.7,"r":25,"k":37.5},{"t":180,"r":32.5,"k":25},{"t":183.3,"r":27.5,"k":32.5},{"t":186.7,"r":32.5,"k":27.5},{"t":190,"r":25,"k":32.5},{"t":193.3,"r":40,"k":25},{"t":196.7,"r":45,"k":40},{"t":200,"r":37.5,"k":45},{"t":203.3,"r":32.5,"k":37.5},{"t":206.7,"r":15,"k":32.5},{"t":210,"r":27.5,"k":15},{"t":213.3,"r":25,"k":27.5},{"t":216.7,"r":27.5,"k":25},{"t":220,"r":52.5,"k":27.5},{"t":223.3,"r":45,"k":52.5},{"t":226.7,"r":52.5,"k":45},{"t":230,"r":32.5,"k":52.5},{"t":232,"r":25,"k":32.5},{"t":234.7,"r":40,"k":25},{"t":238,"r":37.5,"k":40},{"t":241.3,"r":45,"k":37.5},{"t":244.7,"r":40,"k":45},{"t":248,"r":52.5,"k":40},{"t":250.7,"r":57.5,"k":52.5},{"t":253.3,"r":52.5,"k":57.5},{"t":256.7,"r":40,"k":52.5},{"t":260,"r":37.5,"k":40},{"t":263.3,"r":25,"k":37.5},{"t":266.7,"r":12.5,"k":25},{"t":268.7,"r":32.5,"k":12.5},{"t":270,"r":57.5,"k":32.5},{"t":272,"r":40,"k":57.5},{"t":274.7,"r":32.5,"k":40},{"t":276.7,"r":27.5,"k":32.5},{"t":280,"r":37.5,"k":27.5},{"t":283.3,"r":27.5,"k":37.5},{"t":285.3,"r":57.5,"k":27.5},{"t":288.7,"r":62.5,"k":57.5},{"t":292,"r":40,"k":62.5},{"t":293.3,"r":12.5,"k":40},{"t":295.3,"r":25,"k":12.5},{"t":297.3,"r":20,"k":25},{"t":302,"r":15,"k":20},{"t":305.3,"r":25,"k":15},{"t":307.3,"r":40,"k":25},{"t":310,"r":75,"k":40},{"t":312,"r":77.5,"k":75},{"t":314,"r":65,"k":77.5},{"t":317.3,"r":45,"k":65},{"t":320.7,"r":45,"k":45},{"t":323.3,"r":40,"k":45},{"t":325.3,"r":75,"k":40},{"t":328.7,"r":77.5,"k":75},{"t":332,"r":65,"k":77.5},{"t":336.7,"r":57.5,"k":65},{"t":340.7,"r":40,"k":57.5},{"t":344,"r":15,"k":40},{"t":346.7,"r":7.5,"k":15},{"t":348.7,"r":27.5,"k":7.5},{"t":352,"r":40,"k":27.5},{"t":356.7,"r":45,"k":40},{"t":360,"r":65,"k":45},{"t":363.3,"r":87.5,"k":65},{"t":365.3,"r":77.5,"k":87.5},{"t":367.3,"r":32.5,"k":77.5},{"t":370,"r":65,"k":32.5},{"t":373.3,"r":40,"k":65},{"t":376.7,"r":40,"k":40},{"t":380.7,"r":37.5,"k":40},{"t":385.3,"r":27.5,"k":37.5},{"t":388.7,"r":57.5,"k":27.5},{"t":392,"r":62.5,"k":57.5},{"t":396.7,"r":70,"k":62.5},{"t":400,"r":77.5,"k":70},{"t":403.3,"r":75,"k":77.5},{"t":407.3,"r":77.5,"k":75},{"t":410.7,"r":40,"k":77.5},{"t":414,"r":87.5,"k":40},{"t":417.3,"r":65,"k":87.5},{"t":420.7,"r":62.5,"k":65},{"t":424,"r":57.5,"k":62.5},{"t":430,"r":82.5,"k":57.5},{"t":432,"r":65,"k":82.5},{"t":436.7,"r":50,"k":65},{"t":440.7,"r":40,"k":50},{"t":444,"r":25,"k":40},{"t":447.3,"r":25,"k":25},{"t":450.7,"r":32.5,"k":25},{"t":454,"r":57.5,"k":32.5},{"t":457.3,"r":65,"k":57.5},{"t":463.3,"r":75,"k":65},{"t":467.3,"r":70,"k":75},{"t":472,"r":77.5,"k":70},{"t":476.7,"r":87.5,"k":77.5},{"t":480.7,"r":90,"k":87.5},{"t":485.3,"r":87.5,"k":90},{"t":490,"r":82.5,"k":87.5},{"t":493.3,"r":87.5,"k":82.5},{"t":496.7,"r":75,"k":87.5},{"t":500,"r":50,"k":75},{"t":503.3,"r":32.5,"k":50},{"t":507.3,"r":37.5,"k":32.5},{"t":512,"r":45,"k":37.5},{"t":515.3,"r":62.5,"k":45},{"t":517.3,"r":70,"k":62.5},{"t":520.7,"r":75,"k":70},{"t":525.3,"r":75,"k":75},{"t":527.3,"r":87.5,"k":75},{"t":530,"r":75,"k":87.5}
],
"vol": [{"t":73,"v":90},{"t":83,"v":8},{"t":92,"v":40},{"t":95,"v":12},{"t":100,"v":10},{"t":103,"v":6},{"t":245,"v":6},{"t":328,"v":12},{"t":452,"v":5},{"t":514,"v":6}]
},
"vconcat": [
{
"width": 810, "height": 8,
"data": {"name": "eq"},
"mark": {"type": "line", "color": "#FF0000", "strokeWidth": 1.5, "interpolate": "step-after", "clip": true},
"encoding": {
"x": {"field": "t", "type": "quantitative", "scale": {"domain": [0, 540], "nice": false, "zero": false}, "axis": {"orient": "bottom", "labels": false, "ticks": false, "domain": true, "domainColor": "#000000", "grid": false, "title": null}},
"y": {"field": "v", "type": "quantitative", "scale": {"domain": [0, 8], "nice": false, "zero": false}, "axis": {"orient": "right", "labels": false, "values": [1, 3, 5, 7], "tickCount": 100, "tickSize": 4, "tickColor": "#000000", "domainColor": "#000000", "grid": false, "title": null}}
}
},
{
"width": 810, "height": 15,
"layer": [
{"data": {"name": "macdh"}, "mark": {"type": "bar", "color": "#0000FF", "size": 2.5},
"encoding": {
"x": {"field": "t", "type": "quantitative", "scale": {"domain": [0, 540], "nice": false, "zero": false}, "axis": {"orient": "bottom", "labels": false, "ticks": false, "domain": true, "domainColor": "#000000", "grid": false, "title": null}},
"y": {"field": "h", "type": "quantitative", "scale": {"domain": [-0.7, 0.8], "nice": false, "zero": false}, "axis": {"orient": "right", "values": [0], "labelExpr": "'0'", "tickSize": 7, "tickColor": "#000000", "domainColor": "#000000", "labelPadding": 35, "labelAlign": "right", "labelBaseline": "middle", "labelFontSize": 11, "labelColor": "#000000", "grid": false, "title": null}},
"y2": {"datum": 0}}},
{"data": {"values": [{}]}, "mark": {"type": "rule", "color": "#0000FF", "strokeWidth": 1.5}, "encoding": {"y": {"datum": 0}}},
{"data": {"name": "macdl"}, "mark": {"type": "line", "color": "#00FF00", "strokeWidth": 1.5, "interpolate": "monotone", "clip": true},
"encoding": {"x": {"field": "t", "type": "quantitative", "title": null}, "y": {"field": "g", "type": "quantitative", "title": null}}},
{"data": {"name": "macdl"}, "mark": {"type": "line", "color": "#FF0000", "strokeWidth": 1.5, "interpolate": "monotone", "clip": true},
"encoding": {"x": {"field": "t", "type": "quantitative", "title": null}, "y": {"field": "m", "type": "quantitative", "title": null}}},
{"data": {"values": [{"t": 270, "v": 0.7, "s": "Jogo a curto Equity(49,029.55)"}, {"t": 270, "v": 0, "s": "MACD (0.02962), MACD (0.02962)"}]},
"mark": {"type": "text", "fontSize": 11, "color": "#000000", "baseline": "middle"},
"encoding": {"x": {"field": "t", "type": "quantitative", "title": null}, "y": {"field": "v", "type": "quantitative", "title": null}, "text": {"field": "s"}}}
]
},
{
"width": 810, "height": 570,
"layer": [
{
"encoding": {"x": {"field": "t", "type": "quantitative", "scale": {"domain": [0, 540], "nice": false, "zero": false}, "axis": null}},
"layer": [
{"data": {"name": "candles"}, "mark": {"type": "rule", "strokeWidth": 1, "clip": true},
"encoding": {
"y": {"field": "l", "type": "quantitative", "scale": {"domain": [2.983, 4.856], "nice": false, "zero": false}, "title": null,
"axis": {"orient": "right", "values": [3.05,3.1,3.15,3.2,3.25,3.3,3.35,3.4,3.45,3.5,3.55,3.6,3.65,3.7,3.75,3.8,3.85,3.9,3.95,4.0,4.05,4.1,4.15,4.2,4.25,4.3,4.35,4.4,4.45,4.5,4.55,4.6,4.65,4.7,4.75,4.8], "tickCount": 200, "format": ".2f", "tickSize": 7, "tickColor": "#000000", "domainColor": "#000000", "labelPadding": 35, "labelAlign": "right", "labelBaseline": "middle", "labelFontSize": 11, "labelColor": "#000000", "grid": false, "title": null, "labelOverlap": false, "labelFlush": false, "labelBound": false}},
"y2": {"field": "h"},
"color": {"condition": {"test": "datum.c < datum.o", "value": "#FF0000"}, "value": "#000000"}}},
{"data": {"name": "candles"}, "mark": {"type": "bar", "size": 3, "clip": true},
"encoding": {
"y": {"field": "o", "type": "quantitative", "title": null},
"y2": {"field": "c"},
"color": {"condition": {"test": "datum.c < datum.o", "value": "#FF0000"}, "value": "#000000"}}},
{"data": {"name": "ma"}, "mark": {"type": "line", "strokeWidth": 1.2, "interpolate": "monotone", "clip": true},
"encoding": {
"y": {"field": "v", "type": "quantitative", "title": null},
"color": {"field": "s", "type": "nominal", "scale": {"domain": ["m200", "m50", "m20", "m10", "m5"], "range": ["#000000", "#FF0000", "#00FF00", "#0000FF", "#FF00FF"]}, "legend": null}}},
{"data": {"name": "lvl"}, "mark": {"type": "rule", "color": "#0000FF", "strokeWidth": 3.5},
"encoding": {"y": {"field": "p", "type": "quantitative", "title": null}, "x2": {"datum": 540}}},
{"data": {"name": "trend"}, "mark": {"type": "line", "color": "#000000", "strokeWidth": 4, "clip": true},
"encoding": {"y": {"field": "p", "type": "quantitative", "title": null}}},
{"data": {"name": "lbl"}, "mark": {"type": "text", "color": "#0000FF", "fontSize": 11, "baseline": "middle"},
"encoding": {"y": {"field": "p", "type": "quantitative", "title": null}, "text": {"field": "s"}}},
{"data": {"values": [{"t": 270, "p": 4.823, "s": "PTBVLCIMPOR (4.1900, 4.1900, 4.1500, 4.1500)"}]}, "mark": {"type": "text", "color": "#000000", "fontSize": 11, "baseline": "middle"},
"encoding": {"y": {"field": "p", "type": "quantitative", "title": null}, "text": {"field": "s"}}}
]
},
{"data": {"values": [{"p": 3}]}, "mark": {"type": "rule", "opacity": 0},
"encoding": {"y": {"field": "p", "type": "quantitative", "scale": {"domain": [2.983, 4.856], "nice": false, "zero": false}, "title": null,
"axis": {"orient": "right", "labels": false, "tickCount": 187, "tickSize": 4, "tickColor": "#000000", "domain": false, "grid": false, "title": null}}}}
],
"resolve": {"scale": {"y": "independent"}, "axis": {"y": "independent"}}
},
{
"width": 810, "height": 40,
"layer": [
{
"layer": [
{"data": {"values": [{"v": 75}, {"v": 22.5}]}, "mark": {"type": "rule", "color": "#0000FF", "strokeWidth": 1.3},
"encoding": {"y": {"field": "v", "type": "quantitative", "scale": {"domain": [0, 100], "nice": false, "zero": false}, "title": null,
"axis": {"orient": "right", "values": [62.5], "labelExpr": "'50000'", "tickSize": 7, "tickColor": "#000000", "domainColor": "#000000", "labelPadding": 35, "labelAlign": "right", "labelBaseline": "middle", "labelFontSize": 11, "labelColor": "#000000", "grid": false, "title": null}}}},
{"data": {"name": "vol"}, "mark": {"type": "rule", "color": "#0000FF", "strokeWidth": 1.5},
"encoding": {
"x": {"field": "t", "type": "quantitative", "scale": {"domain": [0, 540], "nice": false, "zero": false}, "title": null,
"axis": {"orient": "bottom", "values": [0,17,35,57,77,99,119,143,165,186,210,231,252,274,295,318,338,361,383,407,428,451,476,496,518,540], "tickCount": 200, "labelExpr": "['02','Feb','Mar','Apr','May','Jun','Jul','Aug','Sep','Oct','Nov','Dec','2003','Feb','Mar','Apr','May','Jun','Jul','Aug','Sep','Oct','Nov','Dec','2004',''][indexof([0,17,35,57,77,99,119,143,165,186,210,231,252,274,295,318,338,361,383,407,428,451,476,496,518,540], datum.value)]", "tickSize": 16, "tickColor": "#000000", "domainColor": "#000000", "labelAlign": "left", "labelBaseline": "middle", "labelPadding": -6, "labelOffset": 3, "labelFontSize": 11, "labelColor": "#000000", "labelOverlap": false, "labelFlush": false, "labelBound": false, "grid": false, "title": null, "tickOpacity": {"condition": {"test": "datum.value === 0", "value": 0}, "value": 1}}},
"y": {"field": "v", "type": "quantitative", "title": null}, "y2": {"datum": 0}}},
{"data": {"name": "osc"}, "mark": {"type": "line", "color": "#000000", "strokeWidth": 1.2, "strokeDash": [2, 2], "clip": true},
"encoding": {"x": {"field": "t", "type": "quantitative", "title": null}, "y": {"field": "k", "type": "quantitative", "title": null}}},
{"data": {"name": "osc"}, "mark": {"type": "line", "color": "#FF0000", "strokeWidth": 1.5, "clip": true},
"encoding": {"x": {"field": "t", "type": "quantitative", "title": null}, "y": {"field": "r", "type": "quantitative", "title": null}}},
{"data": {"values": [{"t": 542, "v": 15, "s": "x1000"}]}, "mark": {"type": "text", "align": "left", "baseline": "middle", "fontSize": 11, "color": "#000000"},
"encoding": {"x": {"field": "t", "type": "quantitative", "title": null}, "y": {"field": "v", "type": "quantitative", "title": null}, "text": {"field": "s"}}}
]
},
{"data": {"values": [{"v": 50}]}, "mark": {"type": "rule", "opacity": 0},
"encoding": {"y": {"field": "v", "type": "quantitative", "scale": {"domain": [0, 100], "nice": false, "zero": false}, "title": null,
"axis": {"orient": "right", "labels": false, "tickCount": 10, "tickSize": 4, "tickColor": "#000000", "domain": false, "grid": false, "title": null}}}}
],
"resolve": {"scale": {"y": "independent"}, "axis": {"y": "independent"}}
}
]
}
